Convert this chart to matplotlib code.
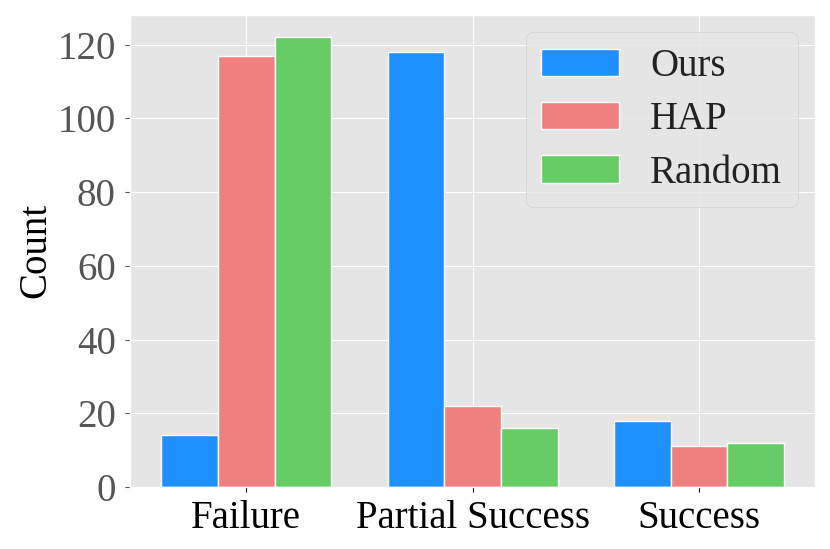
import numpy as np
import matplotlib
matplotlib.use('Agg')
import matplotlib.pyplot as plt

categories = ['Failure', 'Partial Success', 'Success']
methods = ['Ours', 'HAP', 'Random']
ours = [14, 118, 18]
hap = [117, 22, 11]
random_counts = [122, 16, 12]
colors = ['#1E90FF', '#F08080', '#66CC66']

plt.style.use('ggplot')
plt.rcParams['font.family'] = ['Liberation Serif', 'DejaVu Serif']


def plot_counts(output_path):
    fig, ax = plt.subplots(figsize=(8.3, 5.49), dpi=100)
    x = np.arange(len(categories))
    width = 0.25
    series = [ours, hap, random_counts]
    for i, (name, vals) in enumerate(zip(methods, series)):
        ax.bar(x + (i - 1) * width, vals, width, label=name,
               color=colors[i], edgecolor='white', linewidth=1)

    ax.set_xticks(x)
    ax.set_xticklabels(categories, fontsize=28, color='black')
    ax.tick_params(axis='y', labelsize=28, colors='#555555', pad=7)
    ax.tick_params(axis='x', colors='black', pad=6)
    ax.set_ylabel('Count', fontsize=28, color='black', labelpad=2)
    ax.set_yticks([0, 20, 40, 60, 80, 100, 120])
    leg = ax.legend(fontsize=28, loc='upper right', frameon=True,
                    labelcolor='#222222', borderaxespad=0.45,
                    labelspacing=0.42)
    leg.get_frame().set_edgecolor('#cccccc')
    fig.subplots_adjust(left=0.157, right=0.982, top=0.973, bottom=0.113)
    fig.savefig(output_path)


if __name__ == '__main__':
    plot_counts('out.png')
